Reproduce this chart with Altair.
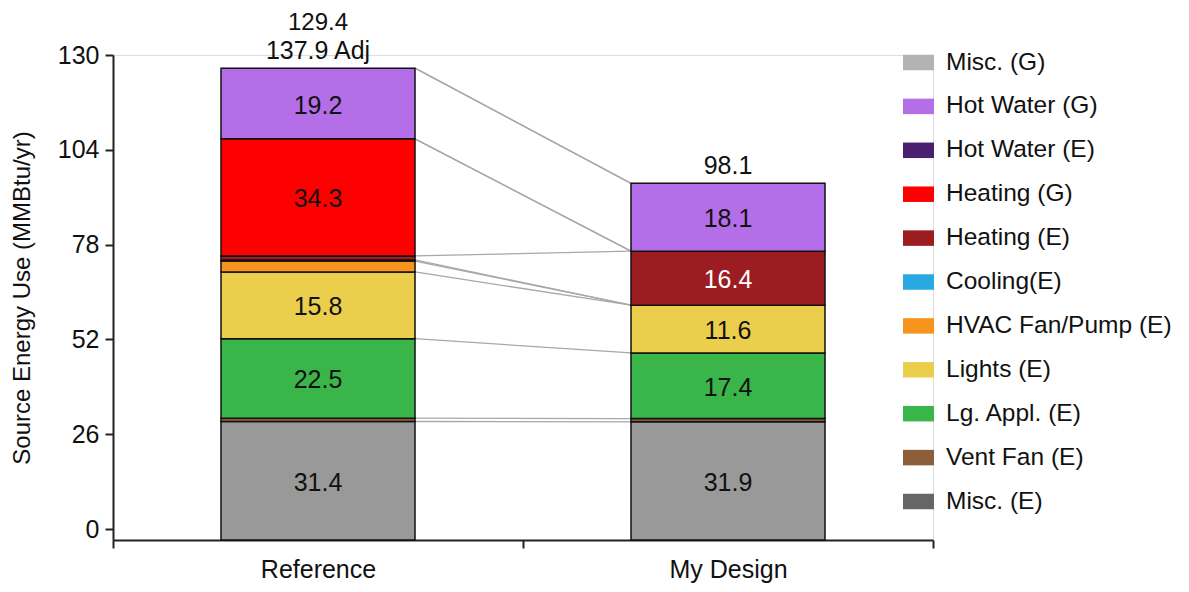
import altair as alt
import pandas as pd

designs = ["Reference", "My Design"]
# stack order, bottom to top
categories = ["Misc. (E)", "Vent Fan (E)", "Lg. Appl. (E)", "Lights (E)",
              "HVAC Fan/Pump (E)", "Cooling(E)", "Heating (E)", "Heating (G)",
              "Hot Water (E)", "Hot Water (G)", "Misc. (G)"]
ref_values = [32.5, 0.9, 21.8, 18.3, 3.0, 0.3, 1.1, 32.1, 0.0, 19.4, 0.0]
md_values = [32.4, 0.9, 18.0, 13.1, 0.0, 0.0, 14.8, 0.0, 0.0, 18.6, 0.0]
ref_labels = ["31.4", "", "22.5", "15.8", "", "", "", "34.3", "", "19.2", ""]
md_labels = ["31.9", "", "17.4", "11.6", "", "", "16.4", "", "", "18.1", ""]
total_main = ["129.4", "98.1"]
total_adj = ["137.9 Adj", ""]

legend_order = list(reversed(categories))
legend_colors = ["#b3b3b3", "#b36ee8", "#4b1f70", "#ff0000", "#9b1c21", "#29a9e1",
                 "#f7941d", "#ebce4b", "#3ab54a", "#8b5e3c", "#666666"]
misc_bar_color = "#999999"

tick_values = [3, 29, 55, 81, 107, 133]

FONT = "Liberation Sans"
FS = 25

rows = []
for d, vals, labs in [(designs[0], ref_values, ref_labels), (designs[1], md_values, md_labels)]:
    cum = 0.0
    for i, (c, v, l) in enumerate(zip(categories, vals, labs)):
        rows.append({"design": d, "category": c, "value": v, "start": cum,
                     "end": cum + v, "mid": cum + v / 2, "label": l, "order": i})
        cum += v
df = pd.DataFrame(rows)

conn_rows = []
for c in categories:
    r = df[(df.design == designs[0]) & (df.category == c)].iloc[0]
    m = df[(df.design == designs[1]) & (df.category == c)].iloc[0]
    conn_rows.append({"from": designs[0], "to": designs[1], "category": c,
                      "ref_top": r["end"], "md_top": m["end"]})
conn = pd.DataFrame(conn_rows)

tot = pd.DataFrame({
    "design": designs,
    "total": [sum(ref_values), sum(md_values)],
    "lower": [a if a else m for m, a in zip(total_main, total_adj)],
    "upper": [m if a else "" for m, a in zip(total_main, total_adj)],
})

xscale = alt.Scale(domain=designs, paddingInner=0, paddingOuter=0)
yscale = alt.Scale(domain=[0, 133], nice=False, zero=False)

x_axis = alt.Axis(title=None, labelAngle=0, tickBand="extent", tickSize=8, tickWidth=2,
                  domainWidth=2, domainColor="#222", tickColor="#222",
                  labelFontSize=FS, labelFont=FONT, labelColor="#111", labelPadding=9)
y_axis = alt.Axis(values=tick_values, labelExpr="datum.value - 3", tickSize=8, tickWidth=2,
                  domainWidth=2, domainColor="#222", tickColor="#222", grid=False,
                  labelFontSize=FS, labelFont=FONT, labelColor="#111", labelPadding=6,
                  title="Source Energy Use (MMBtu/yr)", titleFontSize=FS - 1, titleFont=FONT,
                  titleFontWeight="normal", titleColor="#111", titleX=-91, titleY=242.5,
                  titleBaseline="middle")

connectors = alt.Chart(conn).mark_rule(color="#a8a8a8", strokeWidth=1.3,
                                       xOffset=97, x2Offset=-97).encode(
    x=alt.X("from:N", scale=xscale, axis=x_axis),
    x2="to:N",
    y=alt.Y("ref_top:Q", scale=yscale, axis=y_axis),
    y2="md_top:Q",
)

bars = alt.Chart(df).transform_filter("datum.value > 0").mark_bar(
    width=194, stroke="#111", strokeWidth=1.5).encode(
    x=alt.X("design:N", scale=xscale),
    y=alt.Y("start:Q", scale=yscale),
    y2="end:Q",
    fill=alt.condition(
        alt.datum.category == "Misc. (E)",
        alt.value(misc_bar_color),
        alt.Color("category:N",
                  scale=alt.Scale(domain=legend_order, range=legend_colors),
                  legend=alt.Legend(
                      title=None, orient="none", legendX=790, legendY=-8,
                      direction="vertical",
                      symbolType="M-1,-0.5L1,-0.5L1,0.5L-1,0.5Z", symbolSize=961,
                      symbolStrokeWidth=0, symbolOpacity=1,
                      labelFontSize=FS - 0.5, labelFont=FONT, labelColor="#111",
                      labelOffset=12, rowPadding=16.9, labelLimit=400)),
    ),
)

seg_text = alt.Chart(df).transform_filter("datum.label != ''").mark_text(
    fontSize=FS, font=FONT, baseline="middle", dy=2).encode(
    x=alt.X("design:N", scale=xscale),
    y=alt.Y("mid:Q", scale=yscale),
    text="label:N",
    color=alt.condition(alt.datum.category == "Heating (E)", alt.value("#ffffff"),
                        alt.value("#111111")),
)

tot_lower = alt.Chart(tot).mark_text(fontSize=FS, font=FONT, baseline="bottom", dy=-4,
                                     color="#111").encode(
    x=alt.X("design:N", scale=xscale),
    y=alt.Y("total:Q", scale=yscale),
    text="lower:N",
)
tot_upper = alt.Chart(tot).mark_text(fontSize=FS - 1, font=FONT, baseline="bottom", dy=-33,
                                     color="#111").encode(
    x=alt.X("design:N", scale=xscale),
    y=alt.Y("total:Q", scale=yscale),
    text="upper:N",
)

chart = alt.layer(connectors, bars, seg_text, tot_lower, tot_upper).properties(
    width=820, height=485,
    autosize=alt.AutoSizeParams(type="none"),
    padding={"left": 105, "top": 47, "right": 248, "bottom": 44},
).configure_view(stroke=None).configure(background="white")

chart.save("out.html", embed_options={"renderer": "svg", "actions": False})
